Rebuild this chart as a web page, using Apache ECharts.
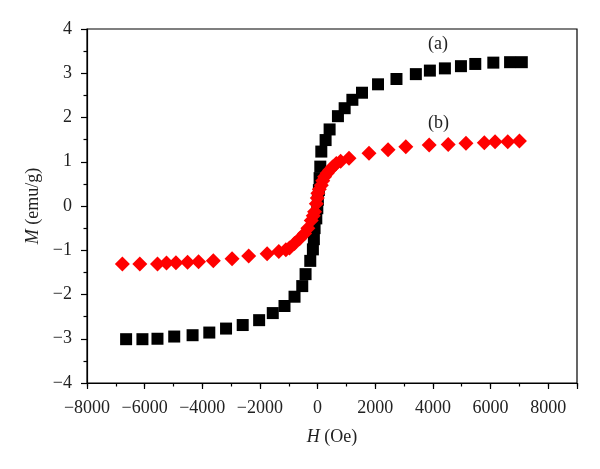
<!DOCTYPE html>
<html><head><meta charset="utf-8">
<script src="https://cdn.jsdelivr.net/npm/echarts@6/dist/echarts.min.js"></script>
<style>html,body{margin:0;padding:0;background:#fff}#c{width:600px;height:469px}</style>
</head><body><div id="c"></div>
<script>
// Sample (a): H (Oe), M (emu/g)
const aH = [-6643,-6077,-5555,-4974,-4337,-3757,-3176,-2598,-2028,-1555,-1148,-800,-532,-417,-254,-163,-129,-104,-45,-10,10,45,70,94,129,278,417,706,939,1207,1541,2097,2737,3409,3896,4417,4974,5471,6097,6678,7085];
const aM = [-3.01,-3.01,-3.00,-2.95,-2.92,-2.86,-2.77,-2.69,-2.58,-2.42,-2.26,-2.05,-1.81,-1.54,-1.24,-0.98,-0.75,-0.50,-0.28,-0.05,0.14,0.36,0.63,0.89,1.23,1.49,1.73,2.03,2.21,2.40,2.56,2.75,2.87,2.98,3.06,3.11,3.16,3.21,3.24,3.25,3.25];
// Sample (b)
const bH = [-6772,-6167,-5555,-5242,-4915,-4511,-4129,-3617,-2967,-2390,-1750,-1346,-1100,-974,-800,-626,-452,-337,-219,-150,-104,-45,-10,10,60,129,180,243,330,417,520,650,800,1089,1784,2445,3061,3871,4532,5148,5784,6157,6598,7002];
const bM = [-1.31,-1.31,-1.31,-1.29,-1.28,-1.27,-1.26,-1.24,-1.19,-1.13,-1.08,-1.03,-0.99,-0.95,-0.85,-0.74,-0.62,-0.50,-0.33,-0.22,-0.13,0.05,0.18,0.29,0.38,0.47,0.57,0.66,0.74,0.81,0.88,0.96,1.01,1.08,1.19,1.27,1.34,1.38,1.39,1.42,1.43,1.45,1.45,1.47];
const xTicks = {min:-8000, max:9000, major:2000, minor:1000};
const yTicks = {min:-4, max:4, major:1};
const seriesLabels = ['(a)','(b)'];

const FONT = '"Liberation Serif","DejaVu Serif",serif';
const FS = 18;
const fmt = v => (v === 9000 ? '' : String(v).replace('-', '\u2212'));
const chart = echarts.init(document.getElementById('c'), null, {renderer:'canvas'});
chart.setOption({
  animation:false,
  backgroundColor:'#fff',
  grid:{left:87, right:23, top:29, bottom:86, show:true, borderColor:'#000', borderWidth:1.2, backgroundColor:'transparent'},
  xAxis:[{
    type:'value', position:'bottom', min:xTicks.min, max:xTicks.max, interval:xTicks.major,
    name:'{i|H} (Oe)', nameLocation:'middle', nameGap:45,
    nameTextStyle:{fontFamily:FONT, fontSize:FS, color:'#222', rich:{i:{fontFamily:FONT, fontStyle:'italic', fontSize:FS, color:'#222'}}},
    axisLine:{show:true, onZero:false, lineStyle:{color:'#000', width:1.2}},
    axisTick:{show:true, inside:false, length:6, lineStyle:{color:'#000', width:1.2}},
    axisLabel:{formatter:fmt, fontFamily:FONT, fontSize:FS, color:'#222', margin:16},
    splitLine:{show:false}
  },{
    type:'value', position:'bottom', min:xTicks.min, max:xTicks.max, interval:xTicks.minor,
    axisLine:{show:false, onZero:false}, axisLabel:{show:false}, splitLine:{show:false},
    axisTick:{show:true, inside:false, length:3.5, lineStyle:{color:'#000', width:1.2}}
  }],
  yAxis:{
    type:'value', min:yTicks.min, max:yTicks.max, interval:yTicks.major,
    name:'{i|M} (emu/g)', nameLocation:'middle', nameGap:43, nameRotate:90,
    nameTextStyle:{fontFamily:FONT, fontSize:FS, color:'#222', rich:{i:{fontFamily:FONT, fontStyle:'italic', fontSize:FS, color:'#222'}}},
    axisLine:{show:true, onZero:false, lineStyle:{color:'#000', width:1.2}},
    axisTick:{show:true, inside:false, length:6, lineStyle:{color:'#000', width:1.2}},
    minorTick:{show:true, splitNumber:2, length:3.5, lineStyle:{color:'#000', width:1.2}},
    axisLabel:{formatter:fmt, fontFamily:FONT, fontSize:FS, color:'#222', margin:15},
    splitLine:{show:false}
  },
  series:[{
    type:'scatter', name:seriesLabels[0], symbol:'rect', symbolSize:12,
    itemStyle:{color:'#000', opacity:1},
    data:aH.map((h,i)=>[h,aM[i]])
  },{
    type:'scatter', name:seriesLabels[1], symbol:'diamond', symbolSize:15,
    itemStyle:{color:'#ff0000', opacity:1},
    data:bH.map((h,i)=>[h,bM[i]])
  }],
  graphic:[
    {type:'text', left:428, top:35, style:{text:seriesLabels[0], font:FS+'px '+FONT, fill:'#222'}},
    {type:'text', left:428, top:114, style:{text:seriesLabels[1], font:FS+'px '+FONT, fill:'#222'}}
  ]
});
</script></body></html>
